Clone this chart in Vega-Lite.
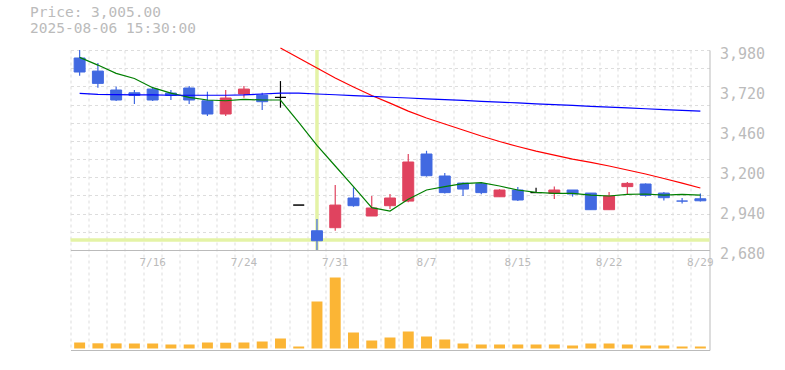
{
  "$schema": "https://vega.github.io/schema/vega-lite/v6.json",
  "width": 639,
  "height": 300,
  "autosize": {"type": "none"},
  "padding": {"left": 70.5, "top": 50, "right": 75.5, "bottom": 20},
  "background": "white",
  "title": {
    "text": ["Price: 3,005.00", "2025-08-06 15:30:00"],
    "anchor": "start",
    "frame": "group",
    "dx": -40.5,
    "offset": 9,
    "font": "DejaVu Sans Mono",
    "fontSize": 14.5,
    "fontWeight": "normal",
    "color": "#bbbbbb",
    "lineHeight": 16.5
  },
  "config": {"view": {"stroke": null}, "axis": {"labelFont": "DejaVu Sans Mono"}},
  "datasets": {
    "k": [
      {"d": "2025-07-10", "o": 3928, "h": 3980, "l": 3813, "c": 3837, "dir": "down", "v": 60000, "g": 3932, "r": null, "b": 3698},
      {"d": "2025-07-11", "o": 3843, "h": 3895, "l": 3735, "c": 3763, "dir": "down", "v": 52000, "g": 3882, "r": null, "b": 3692},
      {"d": "2025-07-14", "o": 3720, "h": 3742, "l": 3648, "c": 3655, "dir": "down", "v": 51000, "g": 3828, "r": null, "b": 3690},
      {"d": "2025-07-15", "o": 3702, "h": 3720, "l": 3629, "c": 3685, "dir": "down", "v": 50000, "g": 3795, "r": null, "b": 3688},
      {"d": "2025-07-16", "o": 3726, "h": 3741, "l": 3648, "c": 3655, "dir": "down", "v": 50000, "g": 3735, "r": null, "b": 3688},
      {"d": "2025-07-17", "o": 3700, "h": 3720, "l": 3655, "c": 3685, "dir": "down", "v": 40000, "g": 3700, "r": null, "b": 3686},
      {"d": "2025-07-18", "o": 3733, "h": 3746, "l": 3629, "c": 3655, "dir": "down", "v": 40000, "g": 3672, "r": null, "b": 3686},
      {"d": "2025-07-22", "o": 3650, "h": 3709, "l": 3551, "c": 3564, "dir": "down", "v": 60000, "g": 3655, "r": null, "b": 3686},
      {"d": "2025-07-23", "o": 3564, "h": 3720, "l": 3551, "c": 3668, "dir": "up", "v": 58000, "g": 3650, "r": null, "b": 3686},
      {"d": "2025-07-24", "o": 3694, "h": 3746, "l": 3670, "c": 3726, "dir": "up", "v": 60000, "g": 3659, "r": null, "b": 3688},
      {"d": "2025-07-25", "o": 3687, "h": 3702, "l": 3590, "c": 3644, "dir": "down", "v": 70000, "g": 3655, "r": null, "b": 3694},
      {"d": "2025-07-28", "o": 3672, "h": 3778, "l": 3605, "c": 3672, "dir": "even", "v": 100000, "g": 3655, "r": 3993, "b": 3700},
      {"d": "2025-07-29", "o": 2972, "h": 2972, "l": 2972, "c": 2972, "dir": "even", "v": 20000, "g": 3510, "r": 3928, "b": 3700},
      {"d": "2025-07-30", "o": 2805, "h": 2882, "l": 2680, "c": 2740, "dir": "down", "v": 470000, "g": 3360, "r": 3863, "b": 3694},
      {"d": "2025-07-31", "o": 2825, "h": 3102, "l": 2805, "c": 2972, "dir": "up", "v": 710000, "g": 3226, "r": 3798, "b": 3689},
      {"d": "2025-08-01", "o": 3018, "h": 3087, "l": 2961, "c": 2968, "dir": "down", "v": 160000, "g": 3092, "r": 3740, "b": 3684},
      {"d": "2025-08-04", "o": 2901, "h": 3031, "l": 2901, "c": 2953, "dir": "up", "v": 80000, "g": 2955, "r": 3684, "b": 3678},
      {"d": "2025-08-05", "o": 2968, "h": 3044, "l": 2946, "c": 3018, "dir": "up", "v": 110000, "g": 2933, "r": 3635, "b": 3673},
      {"d": "2025-08-06", "o": 2998, "h": 3304, "l": 2990, "c": 3252, "dir": "up", "v": 170000, "g": 3010, "r": 3583, "b": 3668},
      {"d": "2025-08-07", "o": 3304, "h": 3325, "l": 3157, "c": 3163, "dir": "down", "v": 120000, "g": 3070, "r": 3538, "b": 3662},
      {"d": "2025-08-08", "o": 3161, "h": 3180, "l": 3048, "c": 3053, "dir": "down", "v": 90000, "g": 3092, "r": 3499, "b": 3657},
      {"d": "2025-08-12", "o": 3115, "h": 3118, "l": 3031, "c": 3076, "dir": "down", "v": 50000, "g": 3111, "r": 3460, "b": 3652},
      {"d": "2025-08-13", "o": 3111, "h": 3122, "l": 3042, "c": 3053, "dir": "down", "v": 40000, "g": 3118, "r": 3421, "b": 3646},
      {"d": "2025-08-14", "o": 3026, "h": 3075, "l": 3026, "c": 3070, "dir": "up", "v": 40000, "g": 3096, "r": 3385, "b": 3641},
      {"d": "2025-08-15", "o": 3070, "h": 3089, "l": 2998, "c": 3005, "dir": "down", "v": 40000, "g": 3070, "r": 3353, "b": 3636},
      {"d": "2025-08-18", "o": 3053, "h": 3085, "l": 3053, "c": 3053, "dir": "even", "v": 40000, "g": 3055, "r": 3323, "b": 3630},
      {"d": "2025-08-19", "o": 3048, "h": 3092, "l": 3011, "c": 3070, "dir": "up", "v": 40000, "g": 3048, "r": 3297, "b": 3625},
      {"d": "2025-08-20", "o": 3070, "h": 3070, "l": 3027, "c": 3044, "dir": "down", "v": 30000, "g": 3048, "r": 3271, "b": 3620},
      {"d": "2025-08-21", "o": 3050, "h": 3050, "l": 2942, "c": 2942, "dir": "down", "v": 50000, "g": 3037, "r": 3249, "b": 3614},
      {"d": "2025-08-22", "o": 2942, "h": 3057, "l": 2942, "c": 3031, "dir": "up", "v": 50000, "g": 3031, "r": 3226, "b": 3609},
      {"d": "2025-08-25", "o": 3092, "h": 3122, "l": 3044, "c": 3113, "dir": "up", "v": 40000, "g": 3042, "r": 3200, "b": 3604},
      {"d": "2025-08-26", "o": 3109, "h": 3113, "l": 3027, "c": 3035, "dir": "down", "v": 30000, "g": 3044, "r": 3174, "b": 3598},
      {"d": "2025-08-27", "o": 3050, "h": 3057, "l": 3001, "c": 3020, "dir": "down", "v": 30000, "g": 3037, "r": 3145, "b": 3593},
      {"d": "2025-08-28", "o": 2998, "h": 3018, "l": 2983, "c": 2998, "dir": "down", "v": 20000, "g": 3042, "r": 3115, "b": 3588},
      {"d": "2025-08-29", "o": 3013, "h": 3048, "l": 2996, "c": 3000, "dir": "down", "v": 20000, "g": 3037, "r": 3083, "b": 3583}
    ],
    "hl": [{"d": "2025-07-30", "p": 2745}]
  },
  "data": {"name": "k"},
  "layer": [
    {
      "mark": {"type": "bar", "color": "#fbb535", "width": {"band": 0.6}},
      "encoding": {
        "x": {"field": "d", "type": "ordinal", "scale": {"type": "band", "paddingInner": 0, "paddingOuter": 0},
          "axis": {"orient": "bottom", "grid": true, "gridDash": [3, 3], "gridColor": "#dddddd", "bandPosition": 0, "labels": false, "ticks": false, "domain": true, "domainColor": "#bbbbbb", "title": null}},
        "y": {"field": "v", "type": "quantitative", "scale": {"domain": [-15000, 2985000], "nice": false, "zero": false}, "axis": null},
        "y2": {"datum": 0}
      }
    },
    {
      "data": {"name": "hl"},
      "mark": {"type": "rule", "color": "#e4f3a6", "strokeWidth": 3.5},
      "encoding": {
        "x": {"field": "d", "type": "ordinal", "scale": {"type": "band", "paddingInner": 0, "paddingOuter": 0}, "axis": null},
        "y": {"datum": 2680, "type": "quantitative", "scale": {"domain": [2030, 3980], "nice": false, "zero": false}, "axis": null},
        "y2": {"datum": 3980}
      }
    },
    {
      "data": {"name": "hl"},
      "mark": {"type": "rule", "color": "#e4f3a6", "strokeWidth": 3.5},
      "encoding": {
        "y": {"field": "p", "type": "quantitative", "scale": {"domain": [2030, 3980], "nice": false, "zero": false},
          "axis": {"orient": "left", "values": [2798.18, 2916.36, 3034.55, 3152.73, 3270.91, 3389.09, 3507.27, 3625.45, 3743.64, 3861.82, 3980], "grid": true, "gridDash": [3, 3], "gridColor": "#dddddd", "labels": false, "ticks": false, "domain": false, "title": null}}
      }
    },
    {
      "mark": {"type": "rule", "strokeWidth": 1.2},
      "encoding": {
        "x": {"field": "d", "type": "ordinal", "scale": {"type": "band", "paddingInner": 0, "paddingOuter": 0},
          "axis": {"orient": "bottom", "values": ["2025-07-16", "2025-07-24", "2025-07-31", "2025-08-07", "2025-08-15", "2025-08-22", "2025-08-29"],
            "labelExpr": "toNumber(slice(datum.value,5,7)) + '/' + toNumber(slice(datum.value,8,10))",
            "offset": -100, "domain": true, "domainColor": "#bbbbbb", "ticks": false, "grid": false,
            "labelFontSize": 11, "labelColor": "#bbbbbb", "labelPadding": 6, "labelAngle": 0, "labelFlush": false, "labelOverlap": false, "labelBound": false, "title": null}},
        "y": {"field": "l", "type": "quantitative", "scale": {"domain": [2030, 3980], "nice": false, "zero": false}, "axis": null},
        "y2": {"field": "h"},
        "color": {"field": "dir", "type": "nominal", "scale": {"domain": ["up", "down", "even"], "range": ["#e0435f", "#4169e1", "#000000"]}, "legend": null}
      }
    },
    {
      "mark": {"type": "bar", "width": {"band": 0.6}, "strokeWidth": 1},
      "encoding": {
        "x": {"field": "d", "type": "ordinal", "scale": {"type": "band", "paddingInner": 0, "paddingOuter": 0}, "axis": null},
        "y": {"field": "o", "type": "quantitative", "scale": {"domain": [2030, 3980], "nice": false, "zero": false},
          "axis": {"orient": "right", "values": [2680, 2940, 3200, 3460, 3720, 3980], "labelExpr": "format(datum.value, ',')", "grid": false, "ticks": false, "domain": true, "domainColor": "#bbbbbb",
            "labelFontSize": 15, "labelColor": "#bbbbbb", "labelPadding": 10, "labelOffset": 3, "labelBaseline": "middle", "labelFlush": false, "title": null}},
        "y2": {"field": "c"},
        "color": {"field": "dir", "type": "nominal", "scale": {"domain": ["up", "down", "even"], "range": ["#e0435f", "#4169e1", "#000000"]}, "legend": null},
        "stroke": {"field": "dir", "type": "nominal", "scale": {"domain": ["up", "down", "even"], "range": ["#e0435f", "#4169e1", "#000000"]}, "legend": null}
      }
    },
    {
      "mark": {"type": "line", "color": "#007f00", "strokeWidth": 1.2},
      "encoding": {
        "x": {"field": "d", "type": "ordinal", "scale": {"type": "band", "paddingInner": 0, "paddingOuter": 0}, "axis": null},
        "y": {"field": "g", "type": "quantitative", "scale": {"domain": [2030, 3980], "nice": false, "zero": false}, "axis": null}
      }
    },
    {
      "mark": {"type": "line", "color": "#ff0000", "strokeWidth": 1.2, "clip": false},
      "encoding": {
        "x": {"field": "d", "type": "ordinal", "scale": {"type": "band", "paddingInner": 0, "paddingOuter": 0}, "axis": null},
        "y": {"field": "r", "type": "quantitative", "scale": {"domain": [2030, 3980], "nice": false, "zero": false}, "axis": null}
      }
    },
    {
      "mark": {"type": "line", "color": "#0000ff", "strokeWidth": 1.2},
      "encoding": {
        "x": {"field": "d", "type": "ordinal", "scale": {"type": "band", "paddingInner": 0, "paddingOuter": 0}, "axis": null},
        "y": {"field": "b", "type": "quantitative", "scale": {"domain": [2030, 3980], "nice": false, "zero": false}, "axis": null}
      }
    }
  ],
  "resolve": {"scale": {"y": "independent"}, "axis": {"x": "independent", "y": "independent"}}
}
